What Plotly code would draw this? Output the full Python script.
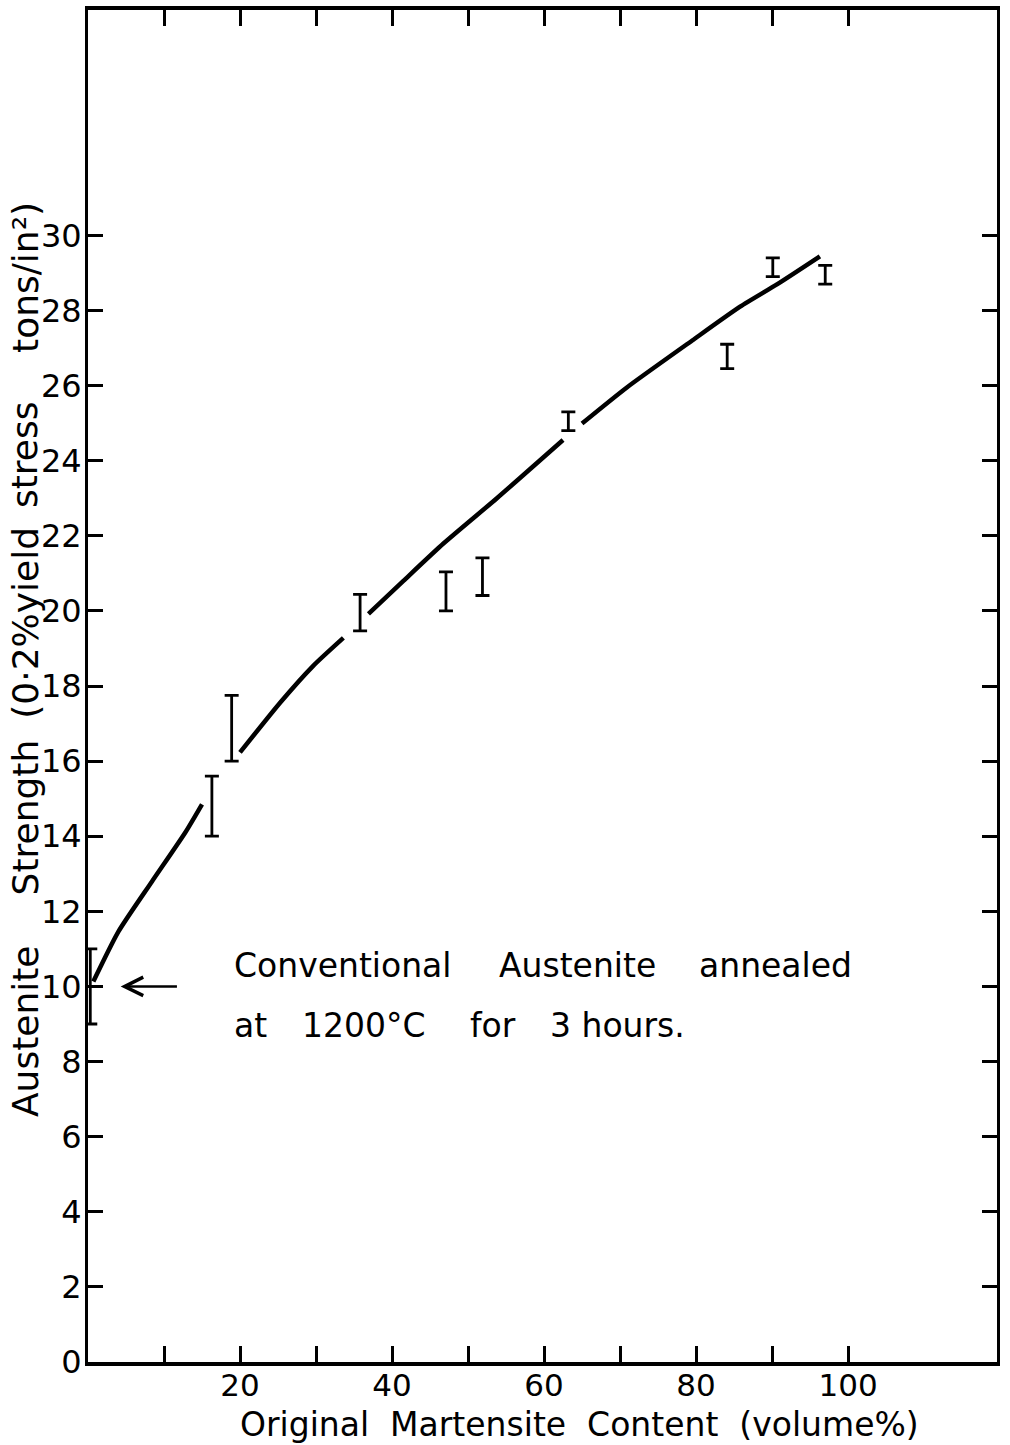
import plotly.graph_objects as go

# ---- data ----
# error bars (x, low, high) in yield stress tons/in^2
bar_x = [0.3, 16.3, 18.9, 35.8, 47.1, 51.9, 63.2, 84.1, 90.1, 97.0]
bar_lo = [9.0, 14.0, 16.0, 19.47, 20.0, 20.41, 24.8, 26.45, 28.9, 28.7]
bar_hi = [11.0, 15.6, 17.75, 20.44, 21.04, 21.41, 25.3, 27.1, 29.4, 29.2]

# hand-drawn curve, broken where it meets the error bars (None = gap)
curve_x = [0.7, 4.0, 8.4, 12.8, 15.0, None,
           20.0, 25.3, 29.6, 33.6, None,
           36.9, 41.5, 46.8, 53.8, 62.5, None,
           65.0, 70.9, 79.5, 85.8, 90.7, 96.3]
curve_y = [10.13, 11.46, 12.79, 14.1, 14.85, None,
           16.23, 17.56, 18.53, 19.28, None,
           19.92, 20.8, 21.8, 23.0, 24.55, None,
           24.99, 25.95, 27.2, 28.1, 28.7, 29.44]

x_tickvals = [10, 20, 30, 40, 50, 60, 70, 80, 90, 100]
x_ticktext = ["", "20", "", "40", "", "60", "", "80", "", "100"]
y_tickvals = list(range(0, 31, 2))

x_title = "Original\u00a0\u00a0Martensite\u00a0\u00a0Content\u00a0\u00a0(volume%)"
# y title pieces (text, centre position along the axis in paper units)
y_title_parts = [("Austenite", 0.245), ("Strength", 0.403),
                 ("(0\u00b72%yield", 0.547), ("stress", 0.671),
                 ("tons/in\u00b2)", 0.802)]

note_line1 = [("Conventional", 18.9), ("Austenite", 53.8), ("annealed", 80.1)]
note_line2 = [("at", 18.9), ("1200\u00b0C", 27.9), ("for", 50.0), ("3\u00a0hours.", 60.5)]
note_y1, note_y2 = 10.55, 8.95
arrow_head = (4.3, 10.0)
arrow_tail = (11.9, 10.0)

FONT = "DejaVu Sans"

bar_mid = [(a + b) / 2 for a, b in zip(bar_lo, bar_hi)]
bar_half = [(b - a) / 2 for a, b in zip(bar_lo, bar_hi)]

fig = go.Figure()
fig.add_trace(go.Scatter(
    x=curve_x, y=curve_y, mode="lines",
    line=dict(color="black", width=4.5, shape="spline", smoothing=0.6),
    connectgaps=False, hoverinfo="skip", showlegend=False, cliponaxis=False))
fig.add_trace(go.Scatter(
    x=bar_x, y=bar_mid, mode="markers",
    marker=dict(size=1, color="rgba(0,0,0,0)"),
    error_y=dict(type="data", array=bar_half, symmetric=True,
                 color="black", thickness=2.8, width=7),
    showlegend=False, cliponaxis=False))

ann = []
for txt, xv in note_line1:
    ann.append(dict(x=xv, y=note_y1, xref="x", yref="y", text=txt, showarrow=False,
                    xanchor="left", yanchor="middle", font=dict(family=FONT, size=33, color="black")))
for txt, xv in note_line2:
    ann.append(dict(x=xv, y=note_y2, xref="x", yref="y", text=txt, showarrow=False,
                    xanchor="left", yanchor="middle", font=dict(family=FONT, size=33, color="black")))
ann.append(dict(x=arrow_head[0], y=arrow_head[1], ax=arrow_tail[0], ay=arrow_tail[1],
                xref="x", yref="y", axref="x", ayref="y", text="", showarrow=True,
                arrowhead=5, arrowsize=1.4, arrowwidth=2.6, arrowcolor="black"))
for txt, yp in y_title_parts:
    ann.append(dict(x=-0.069, y=yp, xref="paper", yref="paper", text=txt, textangle=-90,
                    showarrow=False, xanchor="center", yanchor="middle",
                    font=dict(family=FONT, size=36, color="black")))
ann.append(dict(x=0.541, y=-0.046, xref="paper", yref="paper", text=x_title,
                showarrow=False, xanchor="center", yanchor="middle",
                font=dict(family=FONT, size=33, color="black")))

fig.update_layout(
    width=1010, height=1445,
    margin=dict(l=88, r=13, t=6, b=83),
    paper_bgcolor="white", plot_bgcolor="white",
    font=dict(family=FONT, size=32, color="black"),
    annotations=ann,
    xaxis=dict(range=[0, 119.6], tickvals=x_tickvals, ticktext=x_ticktext,
               ticks="inside", ticklen=16, tickwidth=2.6, tickcolor="black",
               showline=True, linecolor="black", linewidth=3.5, mirror="ticks",
               showgrid=False, zeroline=False, ticklabelstandoff=-7,
               tickfont=dict(family=FONT, size=31)),
    yaxis=dict(range=[0, 36], tickvals=y_tickvals,
               ticks="inside", ticklen=15, tickwidth=2.6, tickcolor="black",
               showline=True, linecolor="black", linewidth=3, mirror="ticks",
               showgrid=False, zeroline=False, ticklabelstandoff=-3,
               tickfont=dict(family=FONT, size=32)),
)

fig.write_html("out.html")
